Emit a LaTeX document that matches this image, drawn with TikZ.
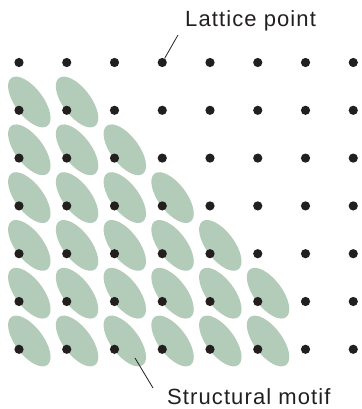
\documentclass[tikz,border=0pt]{standalone}
\usepackage{fontspec}
\setmainfont{Liberation Sans}[LetterSpace=5]
\usepackage{tikz}
\usetikzlibrary{positioning,calc}

\definecolor{motifgreen}{RGB}{179,203,185}
\definecolor{inkdark}{RGB}{35,31,32}

\begin{document}
\begin{tikzpicture}[x=1pt,y=1pt,
    dot/.style={circle,fill=inkdark,inner sep=0pt,minimum size=9.2pt},
    motif/.style={fill=motifgreen},
    leader/.style={draw=inkdark,line width=0.8pt},
    lbl/.style={text=inkdark,inner sep=0pt,font=\fontsize{22}{26}\selectfont}]
  \useasboundingbox (0,0) rectangle (361,-409);
  % Strukturmotive (Ellipsen) zuerst, damit die Punkte darueber liegen
  \foreach \j in {1,...,6} {
    \pgfmathtruncatemacro\last{min(\j,5)}
    \foreach \i in {0,...,\last}
      \fill[motif,shift={({19+47.75*\i+10.3},{-62.5-47.8*\j+8.3})},rotate=-53]
        (0,0) ellipse [x radius=30,y radius=14];
  }
  % Gitterpunkte
  \foreach \i in {0,...,7}
    \foreach \j in {0,...,6}
      \node[dot] (d-\i-\j) at ({19+47.75*\i},{-62.5-47.8*\j}) {};
  % Beschriftungen
  \node[lbl,anchor=base west] (latlbl) at (185,-27) {Lattice point};
  \node[lbl,anchor=base west] (motiflbl) at (167,-404) {Structural motif};
  \coordinate (latend) at (178,-35);
  \coordinate (motifin) at (135,-358);
  \coordinate (motifend) at (153,-388);
  \draw[leader] (latend) -- (d-3-0);
  \draw[leader] (motifin) -- (motifend);
\end{tikzpicture}
\end{document}
